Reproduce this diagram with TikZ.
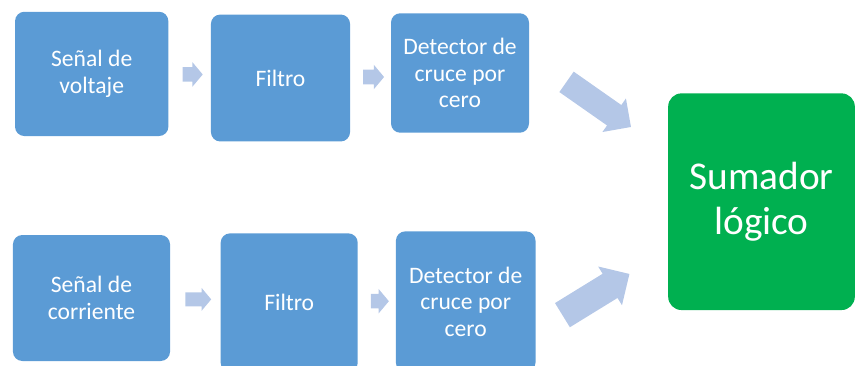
\documentclass[tikz,border=0pt]{standalone}
\usepackage{fontspec}
\setmainfont{Carlito}
\usetikzlibrary{calc,shapes.arrows}
\definecolor{boxblue}{HTML}{5B9BD5}
\definecolor{arrowblue}{HTML}{B4C7E7}
\definecolor{sumgreen}{HTML}{00B050}
\tikzset{
  block/.style={fill=boxblue, rounded corners=7pt, text=white, align=center,
    inner sep=2pt, font=\fontsize{17.7}{20}\selectfont},
  sumblock/.style={fill=sumgreen, rounded corners=10pt, text=white, align=center,
    inner sep=2pt, font=\fontsize{29.5}{33.75}\selectfont},
  smallarrow/.style={single arrow, fill=arrowblue, inner xsep=0pt, inner ysep=5.25pt,
    single arrow head extend=3.75pt, single arrow tip angle=100},
  bigarrow/.style={single arrow, fill=arrowblue, inner xsep=0pt, inner ysep=9.15pt,
    single arrow head extend=6pt, single arrow tip angle=90, anchor=tail}
}

\begin{document}
\begin{tikzpicture}[x=0.75pt, y=-0.75pt]
  \clip (0,0) rectangle (856,365);

  % voltage chain
  \node[block, minimum width=115pt, minimum height=93.2pt] (v1) at (91.7,73.9) {Señal de\\voltaje};
  \node[block, minimum width=104.3pt, minimum height=95.2pt] (v2) at (280.5,78) {Filtro};
  \node[block, minimum width=103.5pt, minimum height=89.6pt] (v3) at (460,73) {Detector de\\cruce por\\cero};

  % current chain (runs off the bottom edge)
  \node[block, minimum width=117.8pt, minimum height=94.5pt] (c1) at (91.5,298) {Señal de\\corriente};
  \node[block, minimum width=102.8pt, minimum height=104pt] (c2) at (289.2,302.7) {Filtro};
  \node[block, minimum width=104.7pt, minimum height=105.5pt] (c3) at (465.7,301.7) {Detector de\\cruce por\\cero};

  \node[sumblock, minimum width=140pt, minimum height=162.5pt] (sum) at (761.5,201.7) {Sumador\\lógico};

  % block arrows between stages
  \node[smallarrow, minimum height=15pt] (av1) at ($(v1.east)!0.5!(v2.west)+(0,-1.5)$) {};
  \node[smallarrow, minimum height=15.75pt] (av2) at ($(v2.east)!0.5!(v3.west)+(0,1.5)$) {};
  \node[smallarrow, minimum height=19.4pt, inner ysep=5pt, single arrow head extend=3.4pt] (ac1) at ($(c1.east)!0.5!(c2.west)+(0,-1)$) {};
  \node[smallarrow, minimum height=13.5pt] (ac2) at ($(c2.east)!0.5!(c3.west)+(0,-1)$) {};

  \node[bigarrow, minimum height=59pt, rotate=-35] (av3) at (566.3,81.7) {};
  \node[bigarrow, minimum height=59pt, inner ysep=10.45pt, single arrow head extend=6.4pt,
    rotate=31.6] (ac3) at (562.2,315.3) {};
\end{tikzpicture}
\end{document}
